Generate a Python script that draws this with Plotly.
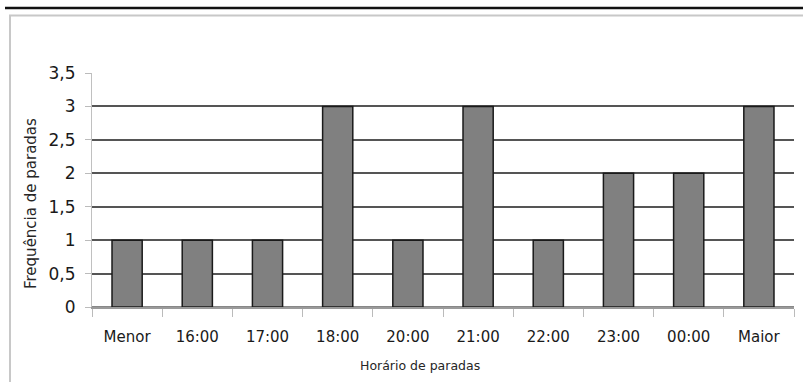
import plotly.graph_objects as go

categories = ["Menor", "16:00", "17:00", "18:00", "20:00", "21:00", "22:00", "23:00", "00:00", "Maior"]
frequencies = [1, 1, 1, 3, 1, 3, 1, 2, 2, 3]
y_tick_values = [0, 0.5, 1, 1.5, 2, 2.5, 3, 3.5]
y_tick_labels = ["0", "0,5", "1", "1,5", "2", "2,5", "3", "3,5"]
x_title = "Horário de paradas"
y_title = "Frequência de paradas"

W, H = 803, 382
L, R, T, B = 92, 9, 73, 75
pw, ph = W - L - R, H - T - B

def px_x(x):
    return (x - L) / pw

def px_y(y):
    return (H - B - y) / ph

fig = go.Figure(go.Bar(
    x=categories, y=frequencies,
    marker=dict(color="#808080", line=dict(color="#1a1a1a", width=1.5)),
))

font = "DejaVu Sans"
fig.update_layout(
    width=W, height=H,
    margin=dict(l=L, r=R, t=T, b=B, autoexpand=False),
    paper_bgcolor="white", plot_bgcolor="white",
    bargap=0.57, showlegend=False,
    font=dict(family=font, color="#333333"),
    shapes=[
        dict(type="line", xref="paper", yref="paper", x0=px_x(5), x1=px_x(803), y0=px_y(8), y1=px_y(8),
             line=dict(color="#111111", width=2.5)),
        dict(type="line", xref="paper", yref="paper", x0=px_x(9), x1=px_x(803), y0=px_y(15.5), y1=px_y(15.5),
             line=dict(color="#c8c8c8", width=2)),
        dict(type="line", xref="paper", yref="paper", x0=px_x(10), x1=px_x(10), y0=px_y(15), y1=px_y(382),
             line=dict(color="#c8c8c8", width=2)),
    ],
    annotations=[
        dict(text=x_title, xref="paper", yref="paper", x=px_x(420), y=px_y(365),
             showarrow=False, xanchor="center", yanchor="middle",
             font=dict(size=12.5, color="#262626", family=font)),
        dict(text=y_title, xref="paper", yref="paper", x=px_x(31), y=px_y(203),
             showarrow=False, xanchor="center", yanchor="middle", textangle=-90,
             font=dict(size=15, color="#262626", family=font)),
    ],
)
fig.update_xaxes(
    type="category", automargin=False,
    showline=True, linecolor="#9a9a9a", linewidth=1.5,
    ticks="outside", tickson="boundaries", ticklen=8, tickcolor="#bbbbbb", tickwidth=1,
    ticklabelstandoff=15,
    showgrid=False,
    tickfont=dict(size=15, color="#1a1a1a", family=font),
)
fig.update_yaxes(
    range=[0, 3.5], tickvals=y_tick_values, ticktext=y_tick_labels, automargin=False,
    showline=True, linecolor="#c0c0c0", linewidth=1,
    ticks="outside", ticklen=6, tickcolor="#bbbbbb",
    ticklabelstandoff=6,
    showgrid=True, gridcolor="#555555", gridwidth=1.5,
    zeroline=True, zerolinecolor="#888888", zerolinewidth=1.5,
    tickfont=dict(size=17, color="#1a1a1a", family=font),
)

fig.write_html(
    "out.html",
    config={"displayModeBar": False},
    post_script="document.body.style.margin='0';document.body.style.overflow='hidden';",
)
